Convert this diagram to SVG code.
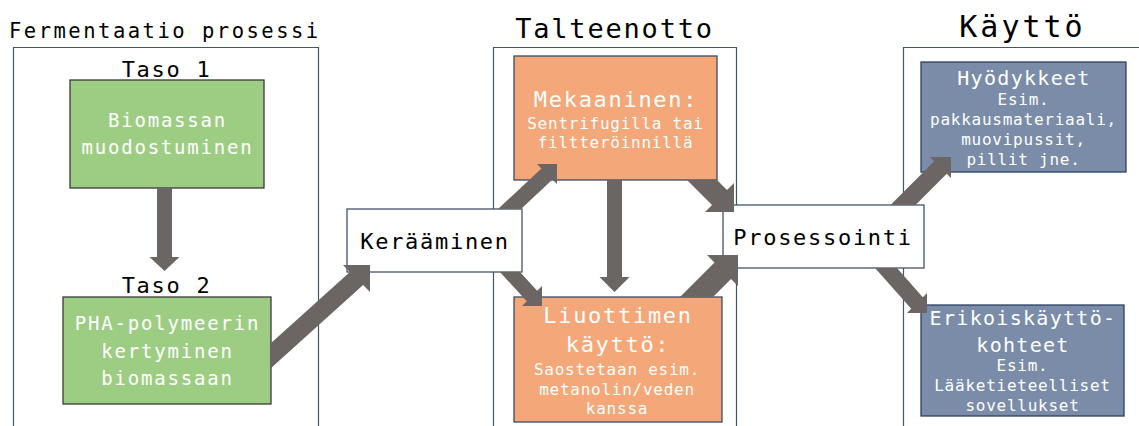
<svg xmlns="http://www.w3.org/2000/svg" width="1139" height="426" viewBox="0 0 1139 426">
  <style>
    text { font-family: "DejaVu Sans Mono", "Liberation Mono", monospace; }
    .dark { fill: #000000; }
    .light { fill: #ffffff; }
    .mid { text-anchor: middle; }
    .frame { fill: none; stroke: #44546a; stroke-width: 1.2; }
    .plain { fill: #ffffff; stroke: #44546a; stroke-width: 1.3; }
    .green { fill: #9dcd83; stroke: #3a3a3a; stroke-width: 1.3; }
    .orange { fill: #f4a778; stroke: #3b4a66; stroke-width: 1.3; }
    .slate { fill: #7a8ca8; stroke: #2f4060; stroke-width: 1.3; }
    .arrow { fill: #6b6563; }
    .f21 { font-size: 20.5px; letter-spacing: 2.5px; }
    .f19 { font-size: 19px; letter-spacing: 1.8px; }
    .f20 { font-size: 20px; letter-spacing: 1.3px; }
    .f22 { font-size: 22px; letter-spacing: 1.7px; }
    .f27 { font-size: 27px; letter-spacing: 1.8px; }
    .f30 { font-size: 30px; letter-spacing: 3px; }
    .f16 { font-size: 16px; letter-spacing: 0.75px; }
  </style>
  <defs>
    <!-- each clip removes the interior of a source box so shafts start at its edge -->
    <clipPath id="clip-bio"><path clip-rule="evenodd" d="M0 0H1139V426H0Z M70 80H264V188H70Z"/></clipPath>
    <clipPath id="clip-pha"><path clip-rule="evenodd" d="M0 0H1139V426H0Z M63 297H271V404H63Z"/></clipPath>
    <clipPath id="clip-ker"><path clip-rule="evenodd" d="M0 0H1139V426H0Z M347 209H522V272H347Z"/></clipPath>
    <clipPath id="clip-mek"><path clip-rule="evenodd" d="M0 0H1139V426H0Z M514 56H717V180H514Z"/></clipPath>
    <clipPath id="clip-liu"><path clip-rule="evenodd" d="M0 0H1139V426H0Z M514 297H722V422H514Z"/></clipPath>
    <clipPath id="clip-pro"><path clip-rule="evenodd" d="M0 0H1139V426H0Z M723 205H924V268H723Z"/></clipPath>
  </defs>

  <rect width="1139" height="426" fill="#ffffff"/>

  <!-- stage frames -->
  <g id="stage-fermentation">
    <path class="frame" d="M13.5 440V47.5H318.5V440"/>
    <text class="dark f21" x="9" y="38">Fermentaatio prosessi</text>
  </g>
  <g id="stage-recovery">
    <path class="frame" d="M493.5 440V47.5H736.5V440"/>
    <text class="dark f27 mid" x="614.5" y="38">Talteenotto</text>
  </g>
  <g id="stage-use">
    <path class="frame" d="M903.5 440V47.5H1145"/>
    <text class="dark f30 mid" x="1022.5" y="37">Käyttö</text>
  </g>

  <!-- nodes -->
  <g id="node-biomass">
    <text class="dark f22 mid" x="166.5" y="77">Taso 1</text>
    <rect class="green" x="70" y="80" width="194" height="108"/>
    <text class="light f19 mid" x="167.5" y="127">Biomassan</text>
    <text class="light f19 mid" x="167.5" y="154">muodostuminen</text>
  </g>
  <g id="node-pha">
    <text class="dark f22 mid" x="166.5" y="293">Taso 2</text>
    <rect class="green" x="63" y="297" width="208" height="107"/>
    <text class="light f19 mid" x="167.5" y="330">PHA-polymeerin</text>
    <text class="light f19 mid" x="167.5" y="358">kertyminen</text>
    <text class="light f19 mid" x="167.5" y="385">biomassaan</text>
  </g>
  <g id="node-collect">
    <rect class="plain" x="347" y="209" width="175" height="63"/>
    <text class="dark f22 mid" x="435" y="249">Kerääminen</text>
  </g>
  <g id="node-mechanical">
    <rect class="orange" x="514" y="56" width="203" height="124"/>
    <text class="light f22 mid" x="616" y="107">Mekaaninen:</text>
    <text class="light f16 mid" x="615.5" y="129">Sentrifugilla tai</text>
    <text class="light f16 mid" x="615.5" y="148">filtteröinnillä</text>
  </g>
  <g id="node-solvent">
    <rect class="orange" x="514" y="297" width="208" height="125"/>
    <text class="light f22 mid" x="618" y="323">Liuottimen</text>
    <text class="light f22 mid" x="618" y="352">käyttö:</text>
    <text class="light f16 mid" x="617" y="375">Saostetaan esim.</text>
    <text class="light f16 mid" x="617" y="395">metanolin/veden</text>
    <text class="light f16 mid" x="617" y="414">kanssa</text>
  </g>
  <g id="node-processing">
    <rect class="plain" x="723" y="205" width="201" height="63"/>
    <text class="dark f22 mid" x="823" y="245">Prosessointi</text>
  </g>
  <g id="node-goods">
    <rect class="slate" x="921" y="62" width="205" height="110"/>
    <text class="light f20 mid" x="1024" y="85">Hyödykkeet</text>
    <text class="light f16 mid" x="1023.5" y="105">Esim.</text>
    <text class="light f16 mid" x="1023.5" y="125">pakkausmateriaali,</text>
    <text class="light f16 mid" x="1023.5" y="145">muovipussit,</text>
    <text class="light f16 mid" x="1023.5" y="165">pillit jne.</text>
  </g>
  <g id="node-special">
    <rect class="slate" x="921" y="305" width="203" height="111"/>
    <text class="light f20 mid" x="1023" y="325">Erikoiskäyttö-</text>
    <text class="light f20 mid" x="1023" y="352">kohteet</text>
    <text class="light f16 mid" x="1022.5" y="371">Esim.</text>
    <text class="light f16 mid" x="1022.5" y="391">Lääketieteelliset</text>
    <text class="light f16 mid" x="1022.5" y="411">sovellukset</text>
  </g>

  <!-- block arrows -->
  <g id="connectors" class="arrow">
    <polygon clip-path="url(#clip-bio)" points="157,186 172,186 172,257 179.5,257 164.5,271 149.5,257 157,257"/>
    <polygon clip-path="url(#clip-pha)" points="262.5,350.7 349.9,271.9 343,265 370,265 370,292 363.1,285.1 262.5,375.7"/>
    <polygon clip-path="url(#clip-ker)" points="490.5,216 541.5,168.4 537,164 557,164 557,184 552.5,179.6 513.5,216"/>
    <polygon clip-path="url(#clip-ker)" points="495.6,267.2 526.8,301.2 522,306 542,306 542,286 537.2,290.8 515.6,267.2"/>
    <polygon clip-path="url(#clip-mek)" points="607,178 622,178 622,277 629.5,277 614.5,292 599.5,277 607,277"/>
    <polygon clip-path="url(#clip-mek)" points="677,170 712,205 705,212 734,212 734,183 727,190 707,170"/>
    <polygon clip-path="url(#clip-liu)" points="667,310 714.5,262.5 707,255 738,255 738,286 731,279 700,310"/>
    <polygon clip-path="url(#clip-pro)" points="880.5,215 934.25,161.25 930,157 951,157 951,178 946.75,173.75 905.5,215"/>
    <polygon clip-path="url(#clip-pro)" points="865.7,257.5 911.2,308.8 907,313 927,313 927,293 922.8,297.2 887.7,257.5"/>
  </g>
</svg>
